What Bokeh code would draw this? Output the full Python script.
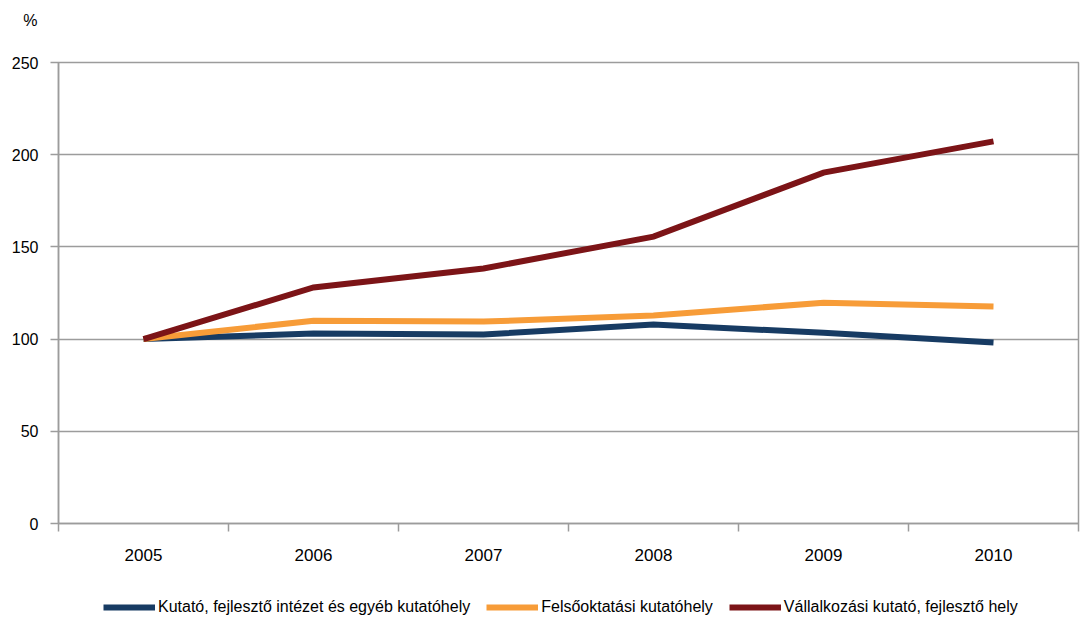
from bokeh.plotting import figure
from bokeh.layouts import column
from bokeh.models import FixedTicker, Legend, LegendItem, Range1d
from bokeh.embed import file_html
from bokeh.resources import INLINE

years = ["2005", "2006", "2007", "2008", "2009", "2010"]
kutato = [100, 103.0, 102.5, 107.9, 103.4, 98.2]
felsookt = [100, 110.0, 109.5, 112.8, 119.7, 117.7]
vallalk = [100, 128.0, 138.3, 155.6, 190.3, 207.2]
y_ticks = [0, 50, 100, 150, 200, 250]

names = ["Kutató, fejlesztő intézet és egyéb kutatóhely",
         "Felsőoktatási kutatóhely",
         "Vállalkozási kutató, fejlesztő hely"]
colors = ["#173b63", "#f79c38", "#7c1417"]
series = [kutato, felsookt, vallalk]

FONT = "Liberation Sans"
GRID = "#9c9c9c"
W = 1080

xs = [i + 0.5 for i in range(len(years))]


def bare(fig):
    fig.min_border_left = 0
    fig.min_border_right = 0
    fig.min_border_top = 0
    fig.min_border_bottom = 0
    fig.outline_line_color = None
    fig.border_fill_color = "white"
    fig.background_fill_color = "white"
    fig.grid.visible = False
    return fig


# --- top strip carrying the unit label on its (otherwise empty) y axis ---
top = bare(figure(width=W, height=40, output_backend="svg", toolbar_location=None,
                  x_range=Range1d(0, 1), y_range=Range1d(0, 1), x_axis_type=None))
top.yaxis.ticker = FixedTicker(ticks=[])
top.yaxis.axis_line_color = None
top.yaxis.major_tick_out = 0
top.yaxis.major_tick_in = 0
top.yaxis.minor_tick_out = 0
top.yaxis.minor_tick_in = 0
top.yaxis.axis_label = "%"
top.yaxis.axis_label_orientation = "horizontal"
top.yaxis.axis_label_standoff = 21
top.yaxis.axis_label_text_font = FONT
top.yaxis.axis_label_text_font_size = "16px"
top.yaxis.axis_label_text_font_style = "normal"
top.yaxis.axis_label_text_color = "black"

# --- main chart ---
p = figure(width=W, height=549, output_backend="svg", toolbar_location=None,
           x_range=Range1d(0, len(years)), y_range=Range1d(0, 250))
p.min_border_left = 58
p.min_border_right = 2
p.min_border_top = 22
p.min_border_bottom = 66
p.background_fill_color = "white"
p.border_fill_color = "white"
p.outline_line_color = GRID
p.outline_line_width = 1.5

for data, c in zip(series, colors):
    p.line(xs, data, line_color=c, line_width=6, line_join="miter")

p.xaxis.ticker = FixedTicker(ticks=xs, minor_ticks=list(range(len(years) + 1)))
p.xaxis.major_label_overrides = {x: y for x, y in zip(xs, years)}
p.xaxis.major_tick_out = 0
p.xaxis.major_tick_in = 0
p.xaxis.minor_tick_out = 8
p.xaxis.minor_tick_in = 0
p.xaxis.minor_tick_line_color = GRID
p.xaxis.minor_tick_line_width = 1.5
p.xaxis.major_label_standoff = 17
p.xgrid.visible = False

p.yaxis.ticker = FixedTicker(ticks=y_ticks)
p.yaxis.major_tick_out = 8
p.yaxis.major_tick_in = 0
p.yaxis.minor_tick_out = 0
p.yaxis.minor_tick_in = 0
p.yaxis.major_label_standoff = 12
p.ygrid.grid_line_color = GRID
p.ygrid.grid_line_width = 1.5

for ax in (p.xaxis, p.yaxis):
    ax.axis_line_color = GRID
    ax.axis_line_width = 1.5
    ax.major_tick_line_color = GRID
    ax.major_tick_line_width = 1.5
    ax.major_label_text_font = FONT
    ax.major_label_text_color = "black"
p.xaxis.major_label_text_font_size = "17px"
p.yaxis.major_label_text_font_size = "16px"

# --- legend strip ---
leg = bare(figure(width=W, height=34, output_backend="svg", toolbar_location=None,
                  x_range=Range1d(0, len(years)), y_range=Range1d(1000, 1001),
                  x_axis_type=None, y_axis_type=None))
leg_renderers = [leg.line(xs, data, line_color=c, line_width=6)
                 for data, c in zip(series, colors)]
legend = Legend(items=[LegendItem(label=n, renderers=[r]) for n, r in zip(names, leg_renderers)],
                orientation="horizontal", location=(45, 7))
legend.label_text_font = FONT
legend.label_text_font_size = "16px"
legend.label_text_color = "black"
legend.glyph_width = 52
legend.label_standoff = 3
legend.spacing = 16
legend.padding = 2
legend.margin = 0
legend.border_line_color = None
legend.background_fill_alpha = 0
legend.label_height = 16
legend.glyph_height = 16
leg.add_layout(legend, "center")

layout = column(top, p, leg, spacing=0)
open("out.html", "w").write(file_html(layout, INLINE))
